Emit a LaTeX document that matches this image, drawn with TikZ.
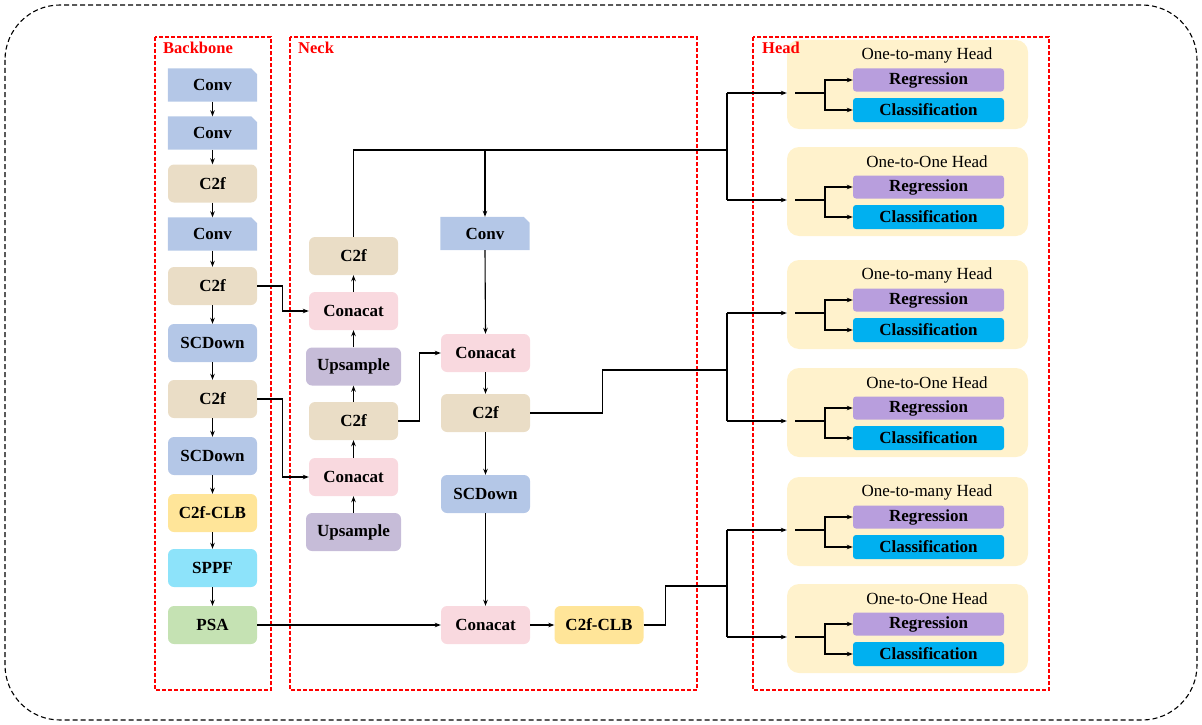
\documentclass[tikz,border=0pt]{standalone}
\usepackage{fontspec}
\setmainfont{Liberation Serif}
\usetikzlibrary{arrows.meta}
\definecolor{convc}{HTML}{B4C7E7}
\definecolor{c2fc}{HTML}{EADDC6}
\definecolor{catc}{HTML}{F9D9DF}
\definecolor{upc}{HTML}{C6BCD8}
\definecolor{clbc}{HTML}{FFE599}
\definecolor{sppfc}{HTML}{8DE3FA}
\definecolor{psac}{HTML}{C5E2B3}
\definecolor{headc}{HTML}{FFF2CC}
\definecolor{regc}{HTML}{B89EDD}
\definecolor{clsc}{HTML}{00B0F0}
\pgfdeclarelayer{bg}
\pgfsetlayers{bg,main}
\tikzset{
  lbl/.style={font=\bfseries\fontsize{17}{19}\selectfont, text=black, inner sep=0pt},
  blk/.style={lbl, rounded corners=6pt, minimum width=89pt, minimum height=38pt},
  convbox/.style={lbl, minimum width=89pt, minimum height=33pt},
  c2fbox/.style={blk, fill=c2fc},
  catbox/.style={blk, fill=catc},
  upbox/.style={blk, fill=upc, minimum width=95pt},
  sdbox/.style={blk, fill=convc},
  clbbox/.style={blk, fill=clbc},
  sppfbox/.style={blk, fill=sppfc},
  psabox/.style={blk, fill=psac},
  hbox/.style={fill=headc, rounded corners=12pt, minimum width=241pt, minimum height=89pt, inner sep=0pt},
  regbox/.style={lbl, fill=regc, rounded corners=3pt, minimum width=151pt, minimum height=23pt},
  clsbox/.style={lbl, fill=clsc, rounded corners=3pt, minimum width=151pt, minimum height=24pt},
  ttl/.style={font=\fontsize{17}{19}\selectfont, inner sep=0pt},
  arr/.style={line width=1.1pt, -{Stealth[length=6pt,width=4.5pt]}},
  ln/.style={line width=1.1pt},
  reddash/.style={draw=red, line width=1.1pt, dash pattern=on 4pt off 2pt},
  grp/.style={text=red, font=\bfseries\fontsize{16.5}{18}\selectfont, anchor=west, inner sep=0pt},
}
\newcommand\convfill[1]{%
  \begin{pgfonlayer}{bg}
  \fill[convc] (#1.south west) -- (#1.north west) -- ([xshift=-6pt]#1.north east) -- ([yshift=-6pt]#1.north east) -- (#1.south east) -- cycle;
  \end{pgfonlayer}}
\newcommand\hgroup[3]{%
  \node[hbox] (#1) at (907.5,{#2-8.5}) {};
  \node[ttl] (#1t) at (927,{#2-38}) {#3};
  \node[regbox] (#1r) at (928.5,{#2-13}) {Regression};
  \node[clsbox] (#1c) at (928.5,{#2+17}) {Classification};
  \coordinate (#1m) at (795,#2);
  \coordinate (#1k) at (825,#2);
  \draw[ln] (#1m) -- (#1k);
  \draw[arr] (#1k) |- (#1r.west);
  \draw[arr] (#1k) |- (#1c.west);}
\begin{document}
\begin{tikzpicture}[x=1pt,y=-1pt]
\useasboundingbox (0,0) rectangle (1202,725);
\draw[line width=1.1pt, dash pattern=on 5pt off 3pt, rounded corners=55pt] (5,5) rectangle (1197,720);
% group boxes
\draw[reddash] (155,37) rectangle (271,690);
\draw[reddash] (290,37) rectangle (697,690);
\draw[reddash] (753,37) rectangle (1049,690);
% backbone
\node[convbox] (b1) at (212.5,85) {Conv}; \convfill{b1}
\node[convbox] (b2) at (212.5,133) {Conv}; \convfill{b2}
\node[c2fbox] (b3) at (212.5,183.5) {C2f};
\node[convbox] (b4) at (212.5,234) {Conv}; \convfill{b4}
\node[c2fbox] (b5) at (212.5,286) {C2f};
\node[sdbox] (b6) at (212.5,343) {SCDown};
\node[c2fbox] (b7) at (212.5,399) {C2f};
\node[sdbox] (b8) at (212.5,456) {SCDown};
\node[clbbox] (b9) at (212.5,513) {C2f-CLB};
\node[sppfbox] (b10) at (212.5,568) {SPPF};
\node[psabox] (b11) at (212.5,625) {PSA};
\foreach \a/\b in {b1/b2,b2/b3,b3/b4,b4/b5,b5/b6,b6/b7,b7/b8,b8/b9,b9/b10,b10/b11}
  \draw[arr] (\a.south) -- (\b.north);
% neck left
\node[c2fbox] (n1) at (353.5,256) {C2f};
\node[catbox] (n2) at (353.5,311) {Conacat};
\node[upbox] (n3) at (353.5,366.5) {Upsample};
\node[c2fbox] (n4) at (353.5,421) {C2f};
\node[catbox] (n5) at (353.5,477) {Conacat};
\node[upbox] (n6) at (353.5,532) {Upsample};
\foreach \a/\b in {n6/n5,n5/n4,n4/n3,n3/n2,n2/n1}
  \draw[arr] (\a.north) -- (\b.south);
% neck right
\node[convbox] (r1) at (485,233.5) {Conv}; \convfill{r1}
\node[catbox] (r2) at (485.5,353) {Conacat};
\node[c2fbox] (r3) at (485.5,413) {C2f};
\node[sdbox] (r4) at (485.5,494) {SCDown};
\node[catbox] (r5) at (485.5,625) {Conacat};
\node[clbbox] (r6) at (599,625) {C2f-CLB};
\draw[arr] (r1.south) -- (r2.north);
\draw[arr] (r2.south) -- (r3.north);
\draw[arr] (r3.south) -- (r4.north);
\draw[arr] (r4.south) -- (r5.north);
\draw[arr] (r5.east) -- (r6.west);
\draw[arr] (b11.east) -- (r5.west);
% lateral connections
\draw[arr] (b5.east) -- ++(25,0) |- (n2.west);
\draw[arr] (b7.east) -- ++(25,0) |- (n5.west);
\draw[arr] (n4.east) -- ++(21,0) |- (r2.west);
% head groups
\hgroup{h1}{93}{One-to-many Head}
\hgroup{h2}{200}{One-to-One Head}
\hgroup{h3}{313}{One-to-many Head}
\hgroup{h4}{421}{One-to-One Head}
\hgroup{h5}{530}{One-to-many Head}
\hgroup{h6}{637}{One-to-One Head}
% group labels
\node[grp] (gb) at (163,48) {Backbone};
\node[grp] (gn) at (298,48) {Neck};
\node[grp] (gh) at (762,48) {Head};
% junctions
\coordinate (t1) at (727,150);
\coordinate (t2) at (727,370);
\coordinate (t3) at (727,586);
\draw[ln] (n1.north) |- (t1);
\draw[arr] (r1.north |- t1) -- (r1.north);
\draw[ln] (r3.east) -- ++(72,0) |- (t2);
\draw[ln] (r6.east) -- ++(22,0) |- (t3);
\draw[ln] (727,93) -- (727,200);
\draw[ln] (727,313) -- (727,421);
\draw[ln] (727,530) -- (727,637);
\foreach \h/\y in {h1/93,h2/200,h3/313,h4/421,h5/530,h6/637}
  \draw[arr] (727,\y) -- (\h.west |- {727,\y});
\end{tikzpicture}
\end{document}
